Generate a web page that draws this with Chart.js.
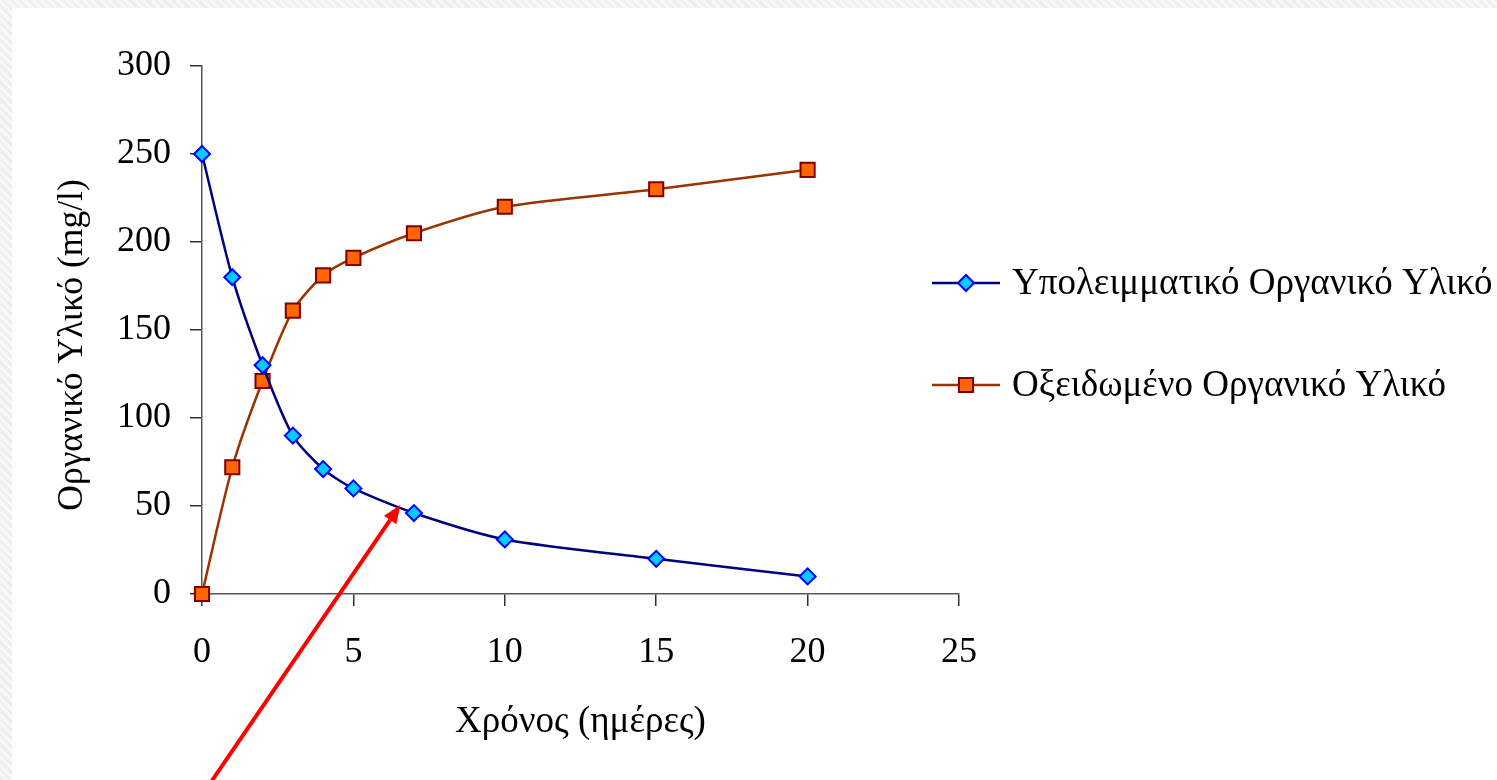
<!DOCTYPE html>
<html>
<head>
<meta charset="utf-8">
<script src="https://cdn.jsdelivr.net/npm/chart.js@4.4.1/dist/chart.umd.min.js"></script>
<style>
    html, body { margin: 0; padding: 0; width: 1497px; height: 780px; overflow: hidden; }
    body {
        background-color: #f6f6f6;
        background-image: repeating-linear-gradient(45deg, #eeeeee 0 3px, #f8f8f8 3px 6px);
        position: relative;
    }
    #panel { position: absolute; left: 12px; top: 8px; right: 0; bottom: 0; background: #ffffff; }
    #wrap { position: absolute; left: 0; top: 0; width: 1497px; height: 780px; }
</style>
</head>
<body>
<div id="panel"></div>
<div id="wrap"><canvas id="organicChart" width="1497" height="780"></canvas></div>
<script>
// Chart data
const days = [0, 1, 2, 3, 4, 5, 7, 10, 15, 20];
const residualOrganic = [250, 180, 130, 90, 71, 60, 46, 31, 20, 10];
const oxidizedOrganic = [0, 72, 121, 161, 181, 191, 205, 220, 230, 241];

const seriesLabels = ['Υπολειμματικό Οργανικό Υλικό', 'Οξειδωμένο Οργανικό Υλικό'];
const xTitle = 'Χρόνος (ημέρες)';
const yTitle = 'Οργανικό Υλικό (mg/l)';
const xTicks = [0, 5, 10, 15, 20, 25];
const yTicks = [0, 50, 100, 150, 200, 250, 300];

// Red arrow annotation, given in data units (tip points at the residual curve)
const arrowFrom = { x: 0.33, y: -106 };
const arrowTo = { x: 6.55, y: 50.5 };

const serifFont = '"Liberation Serif", "Times New Roman", serif';

function toPoints(xs, ys) {
    return xs.map((x, i) => ({ x: x, y: ys[i] }));
}

// Legend, y title and arrow drawn after the chart
const extrasPlugin = {
    id: 'extras',
    afterDraw(chart) {
        const ctx = chart.ctx;
        const xs = chart.scales.x;
        const ys = chart.scales.y;

        // y axis title (sits a bit below the axis middle in the original)
        ctx.save();
        ctx.translate(73, 345);
        ctx.rotate(-Math.PI / 2);
        ctx.fillStyle = '#000000';
        ctx.font = '35.5px ' + serifFont;
        ctx.textAlign = 'center';
        ctx.textBaseline = 'middle';
        ctx.fillText(yTitle, 0, 0);
        ctx.restore();

        // legend entries: line, marker, label
        const rows = [283, 385];
        chart.data.datasets.forEach((ds, i) => {
            const y = rows[i];
            ctx.save();
            ctx.strokeStyle = ds.borderColor;
            ctx.lineWidth = ds.borderWidth;
            ctx.beginPath();
            ctx.moveTo(932, y);
            ctx.lineTo(1000, y);
            ctx.stroke();
            ctx.fillStyle = ds.pointBackgroundColor;
            ctx.strokeStyle = ds.pointBorderColor;
            ctx.lineWidth = ds.pointBorderWidth;
            Chart.helpers.drawPoint(ctx, { pointStyle: ds.pointStyle, radius: ds.pointRadius, borderWidth: ds.pointBorderWidth }, 966, y);
            ctx.fillStyle = '#000000';
            ctx.font = '37px ' + serifFont;
            ctx.textBaseline = 'middle';
            ctx.textAlign = 'left';
            ctx.fillText(ds.label, 1012, y + 1);
            ctx.restore();
        });

        // arrow
        const x1 = xs.getPixelForValue(arrowFrom.x), y1 = ys.getPixelForValue(arrowFrom.y);
        const x2 = xs.getPixelForValue(arrowTo.x), y2 = ys.getPixelForValue(arrowTo.y);
        const ang = Math.atan2(y2 - y1, x2 - x1);
        const headLen = 18, headW = 7.5;
        const bx = x2 - Math.cos(ang) * headLen, by = y2 - Math.sin(ang) * headLen;
        ctx.save();
        ctx.strokeStyle = '#ff0000';
        ctx.fillStyle = '#ff0000';
        ctx.lineWidth = 4;
        ctx.beginPath();
        ctx.moveTo(x1, y1);
        ctx.lineTo(bx, by);
        ctx.stroke();
        ctx.beginPath();
        ctx.moveTo(x2, y2);
        ctx.lineTo(bx + Math.sin(ang) * headW, by - Math.cos(ang) * headW);
        ctx.lineTo(bx - Math.sin(ang) * headW, by + Math.cos(ang) * headW);
        ctx.closePath();
        ctx.fill();
        ctx.restore();
    }
};

function initOrganicChart() {
    Chart.defaults.font.family = serifFont;
    Chart.defaults.color = '#000000';

    const ctx = document.getElementById('organicChart');
    new Chart(ctx, {
        type: 'scatter',
        data: {
            datasets: [
                {
                    label: seriesLabels[0],
                    data: toPoints(days, residualOrganic),
                    showLine: true,
                    borderColor: '#000080',
                    borderWidth: 2.5,
                    tension: 0.25,
                    pointStyle: 'rectRot',
                    pointRadius: 8,
                    pointBackgroundColor: '#00ccff',
                    pointBorderColor: '#0000ff',
                    pointBorderWidth: 2,
                    clip: false
                },
                {
                    label: seriesLabels[1],
                    data: toPoints(days, oxidizedOrganic),
                    showLine: true,
                    borderColor: '#993300',
                    borderWidth: 2.5,
                    tension: 0.25,
                    pointStyle: 'rect',
                    pointRadius: 10,
                    pointBackgroundColor: '#ff6600',
                    pointBorderColor: '#800000',
                    pointBorderWidth: 2,
                    clip: false
                }
            ]
        },
        options: {
            responsive: false,
            animation: false,
            events: [],
            layout: { padding: { left: 0, top: 66, right: 538, bottom: 0 } },
            plugins: { legend: { display: false }, tooltip: { enabled: false } },
            scales: {
                x: {
                    type: 'linear',
                    min: 0,
                    max: 25,
                    afterFit: s => { s.height = 186; },
                    afterBuildTicks: s => { s.ticks = xTicks.map(v => ({ value: v })); },
                    grid: { drawOnChartArea: false, drawTicks: true, tickLength: 12, color: '#303030', lineWidth: 1.5 },
                    border: { color: '#555555', width: 1.5 },
                    ticks: { font: { size: 36 }, padding: 25, color: '#000000', maxRotation: 0 },
                    title: { display: true, text: xTitle, font: { size: 37 }, padding: { bottom: 36 }, color: '#000000' }
                },
                y: {
                    type: 'linear',
                    min: 0,
                    max: 300,
                    afterFit: s => { s.width = 202; },
                    afterBuildTicks: s => { s.ticks = yTicks.map(v => ({ value: v })); },
                    grid: { drawOnChartArea: false, drawTicks: true, tickLength: 12, color: '#303030', lineWidth: 1.5 },
                    border: { color: '#555555', width: 1.5 },
                    ticks: { font: { size: 36 }, padding: 19, color: '#000000' },
                    title: { display: false, text: yTitle }
                }
            }
        },
        plugins: [extrasPlugin]
    });
}

window.addEventListener('DOMContentLoaded', initOrganicChart);
</script>
</body>
</html>
